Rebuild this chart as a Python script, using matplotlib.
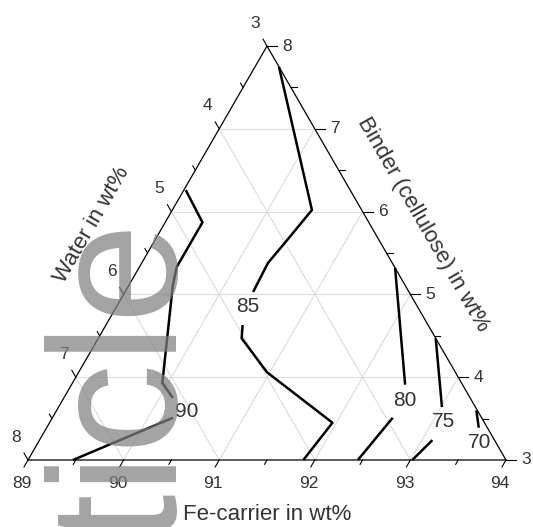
import numpy as np
import matplotlib.pyplot as plt

plt.rcParams['font.family'] = ['Liberation Sans', 'DejaVu Sans']

# composition window of the ternary (wt%)
FE_MIN, BINDER_MIN, WATER_MIN = 89, 3, 3
SPAN = 5

fe_ticks = [89, 90, 91, 92, 93, 94]
binder_ticks = [3, 4, 5, 6, 7, 8]
water_ticks = [3, 4, 5, 6, 7, 8]

# iso-lines as (Fe-carrier, Binder) in wt%, split where the label sits
iso90_upper = [(89.02, 6.26), (89.39, 5.87), (89.39, 5.33), (89.46, 5.11), (89.94, 3.93), (90.14, 3.75)]
iso90_lower = [(90.26, 3.51), (89.47, 3.00)]
iso90_label = (90.36, 3.59)

iso85_upper = [(89.25, 7.75), (90.46, 6.02), (90.39, 5.69), (90.32, 5.38), (90.34, 5.03)]
iso85_lower = [(90.43, 4.63), (90.50, 4.47), (90.97, 4.06), (91.96, 3.45), (91.88, 3.00)]
iso85_label = (90.37, 4.85)

iso80_upper = [(91.68, 5.32), (92.49, 3.91)]
iso80_lower = [(92.56, 3.51), (92.45, 3.00)]
iso80_label = (92.58, 3.72)

iso75_upper = [(92.53, 4.47), (93.01, 3.64)]
iso75_lower = [(93.11, 3.24), (93.02, 3.00)]
iso75_label = (93.11, 3.47)

iso70_upper = [(93.39, 3.60), (93.52, 3.39)]
iso70_label = (93.62, 3.21)

PX = 1 / 478.0   # one pixel in triangle units (side = 1)
H = np.sqrt(3) / 2


def to_xy(fe, binder):
    a = (np.asarray(fe, float) - FE_MIN) / SPAN
    b = (np.asarray(binder, float) - BINDER_MIN) / SPAN
    return a + b / 2, b * H


fig = plt.figure(figsize=(5.33, 5.27), dpi=100)
ax = fig.add_axes([0, 0, 1, 1])
ax.set_xlim(-28 * PX, 505 * PX)
ax.set_ylim(-67 * PX, 460 * PX)
ax.axis('off')

# light grid
grid_kw = dict(color='#dcdcdc', lw=0.8, zorder=1)
for v in fe_ticks[1:-1]:
    x, y = to_xy([v, v], [BINDER_MIN, 100 - WATER_MIN - v])
    ax.plot(x, y, **grid_kw)
for v in binder_ticks[1:-1]:
    x, y = to_xy([FE_MIN, 100 - WATER_MIN - v], [v, v])
    ax.plot(x, y, **grid_kw)
for w in water_ticks[1:-1]:
    x, y = to_xy([100 - w - BINDER_MIN, FE_MIN], [BINDER_MIN, 100 - FE_MIN - w])
    ax.plot(x, y, **grid_kw)

# triangle frame
x, y = to_xy([FE_MIN, FE_MIN + SPAN, FE_MIN, FE_MIN],
             [BINDER_MIN, BINDER_MIN, BINDER_MIN + SPAN, BINDER_MIN])
ax.plot(x, y, color='black', lw=0.9, zorder=3, solid_joinstyle='miter')

tick_kw = dict(color='black', lw=0.8, zorder=3)
lab_kw = dict(fontsize=12.5, color='#333333', ha='center', va='center')

# Fe-carrier axis (bottom), ticks run down-left
d_fe = np.array([-0.5, -H])
for v in np.arange(89, 94.01, 0.5):
    x0, y0 = to_xy(v, BINDER_MIN)
    ln = 8 if v % 1 == 0 else 5
    ax.plot([x0, x0 + d_fe[0] * ln * PX], [y0, y0 + d_fe[1] * ln * PX], **tick_kw)
for v in fe_ticks:
    x0, y0 = to_xy(v, BINDER_MIN)
    ax.text(x0 - 6 * PX, y0 - 23 * PX, str(v), **lab_kw)

# Binder axis (right), ticks run to the right
for v in np.arange(3, 8.01, 0.5):
    x0, y0 = to_xy(100 - WATER_MIN - v, v)
    ln = 10 if v % 1 == 0 else 6
    ax.plot([x0, x0 + ln * PX], [y0, y0], **tick_kw)
for v in binder_ticks:
    x0, y0 = to_xy(100 - WATER_MIN - v, v)
    ax.text(x0 + 20 * PX, y0, str(v), **lab_kw)

# Water axis (left), ticks run up-left
d_w = np.array([-0.5, H])
for w in np.arange(3, 8.01, 0.5):
    x0, y0 = to_xy(FE_MIN, 100 - FE_MIN - w)
    ln = 8 if w % 1 == 0 else 5
    ax.plot([x0, x0 + d_w[0] * ln * PX], [y0, y0 + d_w[1] * ln * PX], **tick_kw)
for w in water_ticks:
    x0, y0 = to_xy(FE_MIN, 100 - FE_MIN - w)
    ax.text(x0 - 12 * PX, y0 + 23 * PX, str(w), **lab_kw)

# axis titles
title_kw = dict(fontsize=16, color='#333333', ha='center', va='center', rotation_mode='anchor')
ax.text(0.5, -54 * PX, 'Fe-carrier in wt%', **title_kw)
mx, my = 0.25 - 3 * PX * 0.5, H / 2 - 3 * PX * H
ax.text(mx - 62 * PX * H, my + 62 * PX * 0.5, 'Water in wt%', rotation=60, **title_kw)
mx, my = 0.75 - 6 * PX * 0.5, H / 2 + 6 * PX * H
ax.text(mx + 46 * PX * H, my + 46 * PX * 0.5, 'Binder (cellulose) in wt%', rotation=-60, **title_kw)

# iso-lines with labels
iso_kw = dict(color='black', lw=1.8, zorder=4, solid_capstyle='butt')
pieces = [
    (iso90_upper, iso90_lower, iso90_label, '90'),
    (iso85_upper, iso85_lower, iso85_label, '85'),
    (iso80_upper, iso80_lower, iso80_label, '80'),
    (iso75_upper, iso75_lower, iso75_label, '75'),
    (iso70_upper, [], iso70_label, '70'),
]
for upper, lower, lab, txt in pieces:
    for seg in (upper, lower):
        if len(seg) > 1:
            fe, bi = zip(*seg)
            x, y = to_xy(fe, bi)
            ax.plot(x, y, **iso_kw)
    lx, ly = to_xy(*lab)
    ax.text(lx, ly, txt, fontsize=15, color='#333333', ha='center', va='center', zorder=5)

# watermark from the source page
ax.text(149 * PX, 239 * PX, 'Article', fontsize=130, color='#808080', alpha=0.72,
        rotation=90, rotation_mode='anchor', ha='right', va='baseline', zorder=6)

fig.savefig('out.png', dpi=100)
